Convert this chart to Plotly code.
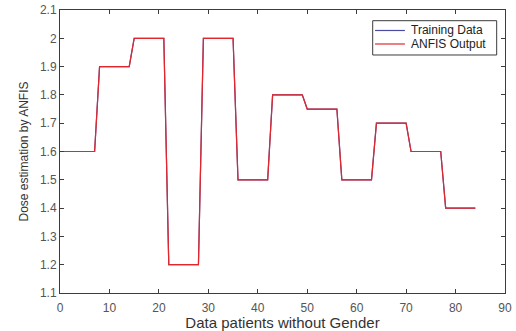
import plotly.graph_objects as go

patients = list(range(0, 85))
training = [1.6]*8 + [1.9]*7 + [2.0]*7 + [1.2]*7 + [2.0]*7 + [1.5]*7 + [1.8]*7 + [1.75]*7 + [1.5]*7 + [1.7]*7 + [1.6]*7 + [1.4]*7
anfis = list(training)

series_names = ["Training Data", "ANFIS Output"]
series_colors = ["#4a4aa0", "#e3262c"]

x_ticks = [0, 10, 20, 30, 40, 50, 60, 70, 80, 90]
y_ticks = [1.1, 1.2, 1.3, 1.4, 1.5, 1.6, 1.7, 1.8, 1.9, 2.0, 2.1]
y_tick_labels = ["1.1", "1.2", "1.3", "1.4", "1.5", "1.6", "1.7", "1.8", "1.9", "2", "2.1"]

FONT = "Liberation Sans, Arial, Helvetica"

fig = go.Figure()
fig.add_trace(go.Scatter(x=patients, y=training, mode="lines", name=series_names[0],
                         line=dict(color=series_colors[0], width=1.2), showlegend=False))
fig.add_trace(go.Scatter(x=patients, y=anfis, mode="lines", name=series_names[1],
                         line=dict(color=series_colors[1], width=1.2), showlegend=False))

# compact MATLAB-style legend box
lx0, lx1, ly0, ly1 = 0.7027, 0.9813, 0.841, 0.9622
fig.add_shape(type="rect", xref="paper", yref="paper", x0=lx0, x1=lx1, y0=ly0, y1=ly1,
              line=dict(color="#3c3c3c", width=1), fillcolor="white", layer="above")
row_y = [0.9276, 0.8799]
for name, color, ry in zip(series_names, series_colors, row_y):
    fig.add_shape(type="line", xref="paper", yref="paper", x0=0.708, x1=0.775, y0=ry, y1=ry,
                  line=dict(color=color, width=1.2), layer="above")
    fig.add_annotation(xref="paper", yref="paper", x=0.7865, y=ry, text=name, showarrow=False,
                       xanchor="left", yanchor="middle", borderpad=0,
                       font=dict(family=FONT, size=12, color="#222222"))

axis_common = dict(showline=True, linecolor="#3c3c3c", linewidth=1, mirror="ticks",
                   ticks="inside", ticklen=4, tickcolor="#3c3c3c", showgrid=False,
                   zeroline=False, automargin=False, ticklabeloverflow="allow",
                   tickfont=dict(family=FONT, size=12, color="#555555"))

fig.update_layout(
    width=516, height=331,
    margin=dict(l=60, r=11, t=10, b=38),
    paper_bgcolor="white", plot_bgcolor="white",
    showlegend=False,
    xaxis=dict(range=[0, 90], tickvals=x_ticks, ticklabelstandoff=4,
               title=dict(text="Data patients without Gender", standoff=2,
                          font=dict(family=FONT, size=15, color="#333333")),
               **axis_common),
    yaxis=dict(range=[1.1, 2.1], tickvals=y_ticks, ticktext=y_tick_labels,
               title=dict(text="Dose estimation by ANFIS", standoff=8,
                          font=dict(family=FONT, size=12, color="#333333")),
               **axis_common),
)

fig.write_html("out.html", config={"displayModeBar": False},
               post_script="document.body.style.margin='0px';")
